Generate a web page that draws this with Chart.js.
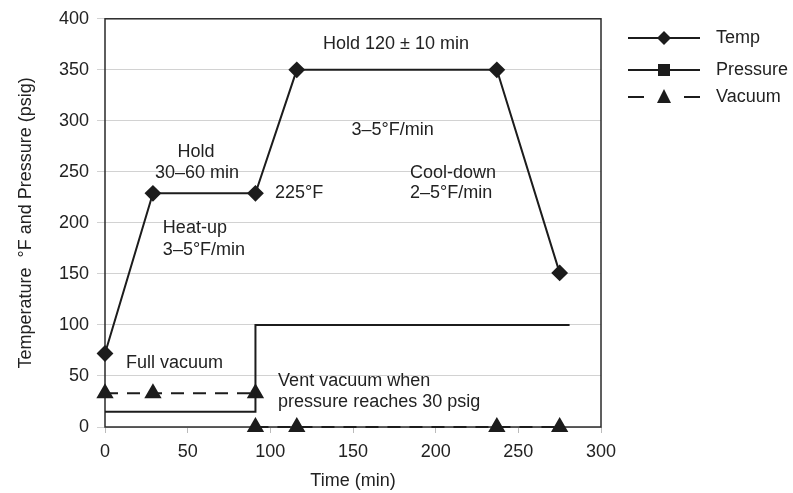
<!DOCTYPE html>
<html>
<head>
<meta charset="utf-8">
<script src="https://cdn.jsdelivr.net/npm/chart.js@4"></script>
<style>
  body { margin: 0; background: #fff; }
  #wrap { width: 793px; height: 493px; }
</style>
</head>
<body>
<div id="wrap"><canvas id="canvas"></canvas></div>
<script>
// cure cycle: temperature, pressure and vacuum vs time
let tempTime = [0, 29, 91, 116, 237, 275];
let tempValue = [72, 229, 229, 350, 350, 151];

let pressTime = [0, 91, 91, 281];
let pressValue = [15, 15, 100, 100];

let vacTime = [0, 29, 91, 91, 91, 116, 237, 275];
let vacValue = [33, 33, 33, null, 0, 0, 0, 0];

let xTicks = [0, 50, 100, 150, 200, 250, 300];
let yTicks = [0, 50, 100, 150, 200, 250, 300, 350, 400];

let legendNames = ['Temp', 'Pressure', 'Vacuum'];

// text notes placed in data units
let notes = [
  { t: 'Hold 120 \u00b1 10 min', x: 176, y: 375, align: 'center' },
  { t: 'Hold', x: 55, y: 269, align: 'center' },
  { t: '30\u201360 min', x: 55.7, y: 249, align: 'center' },
  { t: '225\u00b0F', x: 102.8, y: 229, align: 'left' },
  { t: 'Heat-up', x: 35, y: 195, align: 'left' },
  { t: '3\u20135\u00b0F/min', x: 35, y: 173, align: 'left' },
  { t: '3\u20135\u00b0F/min', x: 174, y: 291, align: 'center' },
  { t: 'Cool-down', x: 184.5, y: 249, align: 'left' },
  { t: '2\u20135\u00b0F/min', x: 184.5, y: 229, align: 'left' },
  { t: 'Full vacuum', x: 12.7, y: 62.6, align: 'left' },
  { t: 'Vent vacuum when', x: 104.7, y: 45, align: 'left' },
  { t: 'pressure reaches 30 psig', x: 104.7, y: 24.5, align: 'left' }
];

let ink = '#1c1c1c';
let font = '"Liberation Sans", Arial, sans-serif';

function pairs(xs, ys) {
  return xs.map((x, i) => ({ x: x, y: ys[i] }));
}

let extras = {
  id: 'extras',
  beforeDatasetsDraw(chart) {
    // plot frame under the marks
    let ctx = chart.ctx;
    let a = chart.chartArea;
    ctx.save();
    ctx.strokeStyle = '#2a2a2a';
    ctx.lineWidth = 1.5;
    ctx.strokeRect(a.left, a.top, a.right - a.left, a.bottom - a.top);
    ctx.restore();
  },
  afterDraw(chart) {
    let ctx = chart.ctx;
    let sx = chart.scales.x, sy = chart.scales.y;
    ctx.save();

    // notes
    ctx.fillStyle = '#222';
    ctx.font = '18px ' + font;
    ctx.textBaseline = 'middle';
    notes.forEach(n => {
      ctx.textAlign = n.align;
      ctx.fillText(n.t, sx.getPixelForValue(n.x), sy.getPixelForValue(n.y));
    });

    // legend
    let lx0 = 628, lx1 = 700, mx = 664, tx = 716;
    let rows = [38, 70, 97];
    ctx.strokeStyle = ink;
    ctx.fillStyle = ink;
    ctx.lineWidth = 2;
    rows.forEach((y, i) => {
      ctx.beginPath();
      if (i < 2) {
        ctx.moveTo(lx0, y); ctx.lineTo(lx1, y);
      } else {
        ctx.moveTo(lx0, y); ctx.lineTo(lx0 + 16, y);
        ctx.moveTo(lx1 - 16, y); ctx.lineTo(lx1, y);
      }
      ctx.stroke();
      ctx.beginPath();
      if (i === 0) {
        ctx.moveTo(mx, y - 7); ctx.lineTo(mx + 7, y); ctx.lineTo(mx, y + 7); ctx.lineTo(mx - 7, y);
      } else if (i === 1) {
        ctx.rect(mx - 6, y - 6, 12, 12);
      } else {
        ctx.moveTo(mx, y - 8); ctx.lineTo(mx + 7, y + 6); ctx.lineTo(mx - 7, y + 6);
      }
      ctx.closePath();
      ctx.fill();
      ctx.fillStyle = '#222';
      ctx.textAlign = 'left';
      ctx.fillText(legendNames[i], tx, y);
      ctx.fillStyle = ink;
    });
    ctx.restore();
  }
};

let options = {
  type: 'line',
  data: {
    datasets: [{
      label: legendNames[0],
      data: pairs(tempTime, tempValue),
      borderColor: ink,
      backgroundColor: ink,
      borderWidth: 2,
      pointStyle: 'rectRot',
      pointRadius: 7,
      clip: false,
      tension: 0
    }, {
      label: legendNames[1],
      data: pairs(pressTime, pressValue),
      borderColor: ink,
      borderWidth: 2,
      pointRadius: 0,
      clip: false,
      tension: 0
    }, {
      label: legendNames[2],
      data: pairs(vacTime, vacValue),
      borderColor: ink,
      backgroundColor: ink,
      borderWidth: 2,
      borderDash: [13, 9],
      pointStyle: 'triangle',
      pointRadius: 8,
      spanGaps: false,
      clip: false,
      tension: 0
    }]
  },
  options: {
    responsive: true,
    maintainAspectRatio: false,
    animation: false,
    layout: { padding: { top: 18, right: 192, left: 15, bottom: 0 } },
    plugins: {
      legend: { display: false },
      tooltip: { enabled: false }
    },
    scales: {
      x: {
        type: 'linear',
        min: 0, max: 300,
        afterFit(s) { s.height = 66; },
        afterBuildTicks(s) { s.ticks = xTicks.map(v => ({ value: v })); },
        grid: { drawOnChartArea: false, tickLength: 6, color: '#bbb' },
        border: { display: false },
        ticks: { color: '#222', padding: 8, font: { size: 18, family: font } },
        title: { display: true, text: 'Time (min)', color: '#222', padding: { top: 0, bottom: 1 }, font: { size: 18, family: font } }
      },
      y: {
        min: 0, max: 400,
        afterFit(s) { s.width = 90; },
        afterBuildTicks(s) { s.ticks = yTicks.map(v => ({ value: v })); },
        grid: { color: '#d2d2d2', tickLength: 8 },
        border: { display: false },
        ticks: { color: '#222', padding: 8, font: { size: 18, family: font } },
        title: { display: true, text: 'Temperature  \u00b0F and Pressure (psig)', color: '#222', padding: { top: 0, bottom: 0 }, font: { size: 18, family: font } }
      }
    }
  },
  plugins: [extras]
};

let chart = new Chart(document.getElementById('canvas'), options);
</script>
</body>
</html>
